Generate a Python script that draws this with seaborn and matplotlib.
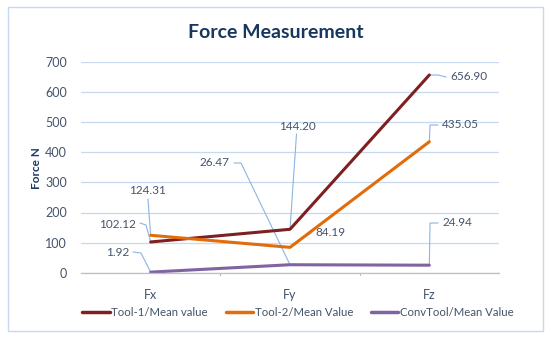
import matplotlib
matplotlib.use("Agg")
import matplotlib.pyplot as plt
import seaborn as sns
import pandas as pd
from matplotlib.patches import Rectangle
from matplotlib.lines import Line2D

categories = ["Fx", "Fy", "Fz"]
series_names = ["Tool-1/Mean value", "Tool-2/Mean Value", "ConvTool/Mean Value"]
tool1 = [102.12, 144.20, 656.90]
tool2 = [124.31, 84.19, 435.05]
convtool = [1.92, 26.47, 24.94]
y_ticks = [0, 100, 200, 300, 400, 500, 600, 700]

colors = ["#7F1F1F", "#E36C0A", "#8064A2"]

rows = []
for name, vals in zip(series_names, [tool1, tool2, convtool]):
    for i, (c, v) in enumerate(zip(categories, vals)):
        rows.append({"pos": i, "cat": c, "value": v, "series": name})
df = pd.DataFrame(rows)

sns.set_theme(style="white")
plt.rcParams["font.family"] = ["Lato", "DejaVu Sans"]

fig = plt.figure(figsize=(5.5, 3.39), dpi=100)
ax = fig.add_axes([81/550, 1-272.7/339, 418/550, (272.7-62)/339])

sns.lineplot(data=df, x="pos", y="value", hue="series", palette=colors,
             hue_order=series_names, sort=False, linewidth=2.2, ax=ax,
             legend=False)

ax.set_xlim(-0.5, 2.5)
ax.set_ylim(0, 700)
ax.set_yticks(y_ticks)
ax.set_xticks(range(len(categories)))
ax.set_xticklabels(categories)
tick_color = "#44546A"
ax.tick_params(axis="both", colors=tick_color, labelsize=9, length=0)
ax.tick_params(axis="y", pad=10)
ax.tick_params(axis="x", pad=12)
ax.yaxis.grid(True, color="#C6D9F1", linewidth=0.9)
for s in ["top", "right", "left"]:
    ax.spines[s].set_visible(False)
ax.spines["bottom"].set_color("#BFBFBF")
ax.spines["bottom"].set_linewidth(0.9)
for xb in [0.5, 1.5]:
    ax.plot([xb, xb], [0, -8], color="#BFBFBF", lw=0.9, clip_on=False)
ax.set_xlabel("")
ax.set_ylabel("Force N", color="#1F3864", fontsize=8.5, fontweight="bold")
ax.yaxis.set_label_coords((42 - 81) / 418, (272.7 - 168) / 210.7)

# data labels with leader lines (text positions, in pixels)
def px2data(px, py):
    return ((px - 150.7) / 139.3, (272.7 - py) / 0.301)

label_color = "#44546A"
leader_color = "#8DB4E2"
labels = [
    # (value, point, text anchor pixel, ha, leader pixel path from text side)
    (tool1[2], (2, tool1[2]), (450, 77), "left", [(446, 77), (438, 75)]),
    (tool2[2], (2, tool2[2]), (442, 125), "left", [(438, 125), (430, 125)]),
    (tool1[1], (1, tool1[1]), (297, 126), "center", [(296.5, 134)]),
    (convtool[1], (1, convtool[1]), (230, 163), "right", [(234, 163), (241, 163)]),
    (tool2[0], (0, tool2[0]), (148, 191), "center", [(148, 199)]),
    (tool1[0], (0, tool1[0]), (136, 224), "right", [(140, 223), (146, 225)]),
    (convtool[0], (0, convtool[0]), (129, 253), "right", [(133, 252), (141, 253)]),
    (tool2[1], (1, tool2[1]), (315, 233), "left", [(311, 233)]),
    (convtool[2], (2, convtool[2]), (442, 223), "left", [(438, 223), (430, 223)]),
]
for val, pt, tp, ha, path in labels:
    tx, ty = px2data(*tp)
    ax.text(tx, ty, f"{val:.2f}", color=label_color, fontsize=8.5, ha=ha, va="center")
    pts = [px2data(*p) for p in path] + [pt]
    ax.plot([p[0] for p in pts], [p[1] for p in pts], color=leader_color, lw=0.8,
            zorder=1, clip_on=False)

fig.text(276/550, 1-32/339, "Force Measurement", ha="center", va="center",
         color="#17375E", fontsize=14, fontweight="bold")

handles = [Line2D([0], [0], color=c, lw=2.5) for c in colors]
fig.legend(handles, series_names, loc="center", bbox_to_anchor=(298/550, 1-312/339),
           ncol=3, frameon=False, fontsize=8.2, handlelength=2.4, handletextpad=0.15,
           columnspacing=1.55, labelcolor=label_color)

fig.patches.append(Rectangle((8/550, 1-331/339), 535/550, 324/339, transform=fig.transFigure,
                             fill=False, edgecolor="#C6D9F1", lw=1.0))

fig.savefig("out.png", dpi=100)
